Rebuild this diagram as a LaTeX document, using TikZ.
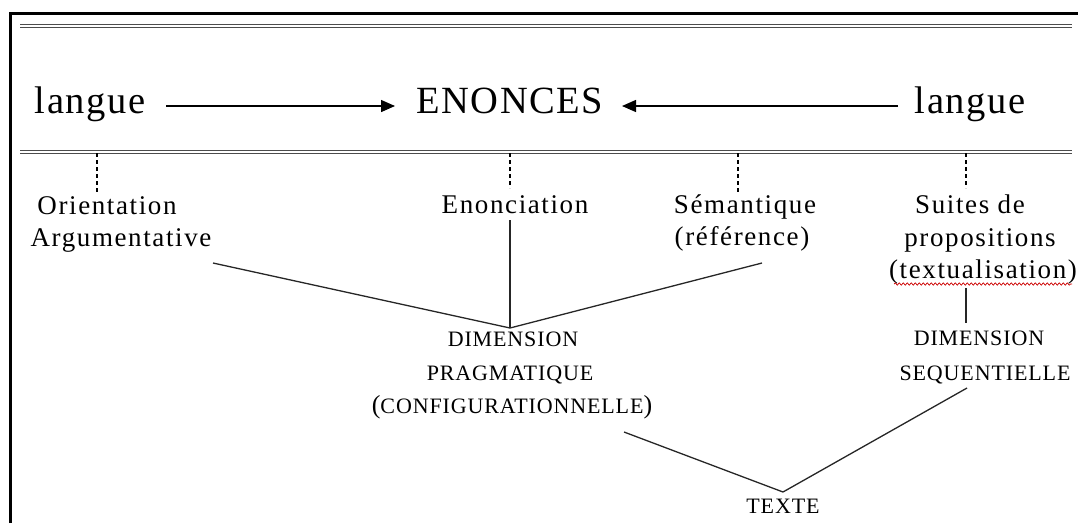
\documentclass[tikz,border=0pt]{standalone}
\usepackage{fontspec}
\setmainfont{Liberation Serif}
\newfontfamily\bigf[LetterSpace=4]{Liberation Serif}
\newfontfamily\midf[LetterSpace=6]{Liberation Serif}
\newfontfamily\smf[LetterSpace=4]{Liberation Serif}
\usetikzlibrary{arrows.meta,decorations.pathmorphing}
\tikzset{
  bigtxt/.style={font=\bigf\fontsize{38.5}{40}\selectfont, inner sep=0pt, anchor=base},
  midtxt/.style={font=\midf\fontsize{27}{30}\selectfont, inner sep=0pt, anchor=base},
  sctxt/.style={font=\smf\fontsize{22}{26}\selectfont, inner sep=0pt, anchor=base},
  arr/.style={line width=1.4pt, -{Triangle[length=14pt,width=12pt]}},
  dashln/.style={line width=1.2pt, dash pattern=on 4pt off 3pt},
  conn/.style={line width=1.3pt, draw=black!85},
  dbl/.style={line width=1.2pt, draw=black!70},
  frame/.style={line width=3pt, line join=miter}
}
\newcommand{\bigpar}[1]{{\fontsize{26}{30}\selectfont #1}}
\begin{document}
\begin{tikzpicture}[x=1pt,y=-1pt]
\useasboundingbox (0,0) rectangle (1078,523);
% frame
\draw[frame] (10.5,523) -- (10.5,13.3) -- (1078,13.3);
% double lines
\draw[dbl] (20,24.7) -- (1072,24.7);
\draw[dbl] (20,27.3) -- (1072,27.3);
\draw[dbl] (20,150.6) -- (1072,150.6);
\draw[dbl] (20,153.3) -- (1072,153.3);
% top row
\node[bigtxt] (l1) at (90,113) {langue};
\node[bigtxt] (en) at (510,113) {ENONCES};
\node[bigtxt] (l2) at (970,113) {langue};
\coordinate (a1s) at (166,106);
\coordinate (a1e) at (395,106);
\coordinate (a2s) at (898,106);
\coordinate (a2e) at (622,106);
\draw[arr] (a1s) -- (a1e);
\draw[arr] (a2s) -- (a2e);
% dashed ticks
\coordinate (d1t) at (97,153); \coordinate (d1b) at (97,193);
\coordinate (d2t) at (510,153); \coordinate (d2b) at (510,188);
\coordinate (d3t) at (738,153); \coordinate (d3b) at (738,192);
\coordinate (d4t) at (966,153); \coordinate (d4b) at (966,188);
\draw[dashln] (d1t) -- (d1b);
\draw[dashln] (d2t) -- (d2b);
\draw[dashln] (d3t) -- (d3b);
\draw[dashln] (d4t) -- (d4b);
% second tier
\node[midtxt] (or1) at (107,214) {Orientation};
\node[midtxt] (or2) at (121,246) {Argumentative};
\node[midtxt] (eno) at (515,213) {Enonciation};
\node[midtxt] (se1) at (745,213) {Sémantique};
\node[midtxt] (se2) at (742,245) {(référence)};
\node[midtxt] (su1) at (970,213) {Suites de};
\node[midtxt] (su2) at (980,246) {propositions};
\node[midtxt] (su3) at (983,278) {(textualisation)};
\draw[red!80!black, line width=0.7pt, decorate, decoration={snake, segment length=4pt, amplitude=1.2pt}] (894,284) -- (1072,284);
% dimension labels
\node[sctxt] (dp1) at (513,346) {DIMENSION};
\node[sctxt] (dp2) at (510,380) {PRAGMATIQUE};
\node[sctxt] (dp3) at (512,413) {\bigpar{(}CONFIGURATIONNELLE\bigpar{)}};
\node[sctxt] (ds1) at (979,345) {DIMENSION};
\node[sctxt] (ds2) at (985,380) {SEQUENTIELLE};
\node[sctxt] (tx) at (783,513) {TEXTE};
% connectors
\coordinate (pj) at (510,328);
\coordinate (c1) at (213,263);
\coordinate (c2) at (510,220);
\coordinate (c3) at (762,263);
\draw[conn] (c1) -- (pj);
\draw[conn] (c2) -- (pj);
\draw[conn] (c3) -- (pj);
\coordinate (s1) at (966,288);
\coordinate (s2) at (966,323);
\draw[conn] (s1) -- (s2);
\coordinate (tj) at (783,492);
\coordinate (t1) at (624,432);
\coordinate (t2) at (967,388);
\draw[conn] (t1) -- (tj);
\draw[conn] (t2) -- (tj);
\end{tikzpicture}
\end{document}
